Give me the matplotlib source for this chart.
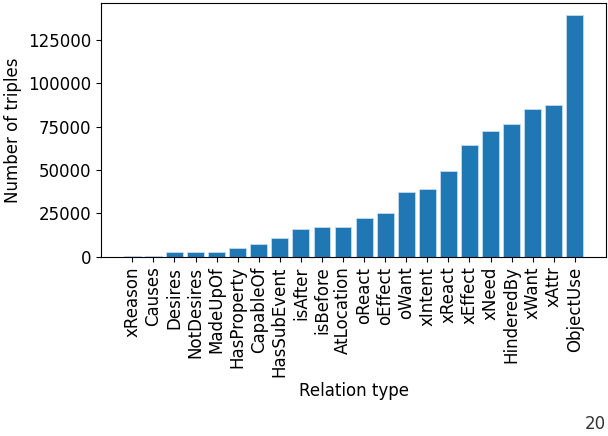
import matplotlib
matplotlib.use('Agg')
import matplotlib.pyplot as plt

relations = ['xReason', 'Causes', 'Desires', 'NotDesires', 'MadeUpOf',
             'HasProperty', 'CapableOf', 'HasSubEvent', 'isAfter', 'isBefore',
             'AtLocation', 'oReact', 'oEffect', 'oWant', 'xIntent', 'xReact',
             'xEffect', 'xNeed', 'HinderedBy', 'xWant', 'xAttr', 'ObjectUse']
counts = [300, 500, 2700, 2700, 2800,
          5000, 7300, 10900, 16300, 17100,
          17300, 22300, 25200, 37400, 39000, 49500,
          64300, 72400, 76600, 85000, 87300, 139400]

plt.rcParams['font.size'] = 12

fig = plt.figure(figsize=(6.08, 4.36), dpi=100)
ax = fig.add_axes([0.166, 0.411, 0.831, 0.582])

ax.bar(range(len(relations)), counts, width=0.8, color='#1f77b4',
       edgecolor='#c6dbef', linewidth=0.6)
ax.set_xticks(range(len(relations)))
ax.set_xticklabels(relations, rotation=90)
ax.set_xlabel('Relation type')
ax.set_ylabel('Number of triples')

# page number in the bottom right corner
fig.text(0.962, 0.008, '20', ha='left', va='bottom', fontsize=12, color='#333333')

fig.savefig('out.png', dpi=100)
